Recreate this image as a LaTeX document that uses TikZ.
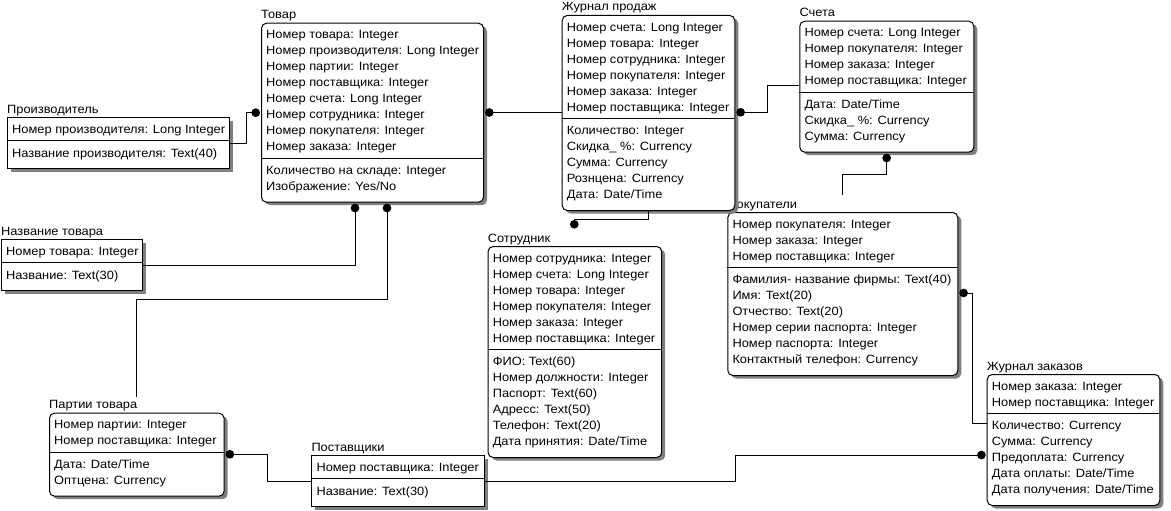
\documentclass[tikz,border=0pt]{standalone}
\usepackage{fontspec}
\setmainfont{Liberation Sans}[FakeStretch=1.07]
\usetikzlibrary{shadows,arrows.meta}
\tikzset{
  ersq/.style={draw, line width=1pt, fill=white, inner sep=0pt,
    drop shadow={shadow xshift=3.5pt, shadow yshift=-3pt, fill=black!50, opacity=1}},
  errnd/.style={ersq, rounded corners=5pt},
  erdiv/.style={line width=1pt},
  ertitle/.style={inner sep=0pt, anchor=base west, font=\fontsize{12}{16}\selectfont},
  erattr/.style={inner sep=0pt, anchor=north west, align=left, font=\fontsize{12}{16}\selectfont},
  errel/.style={line width=1pt},
  dotend/.style={errel, arrows={-Circle[length=8.6pt]}, shorten >=1pt},
  dotstart/.style={errel, arrows={Circle[length=8.6pt]-}, shorten <=1pt},
}
% #1 name #2 style #3 x #4 y(top) #5 width #6 n keys #7 n non-keys #8 title
\newcommand{\erbox}[8]{%
  \pgfmathsetmacro{\erh}{16*(#6+#7)+19}%
  \pgfmathsetmacro{\erd}{#4+16*#6+7.6}%
  \node[#2, minimum width=#5pt, minimum height=\erh pt, anchor=north west] (#1) at (#3,#4) {};
  \node[ertitle] (#1-t) at (#3,#4-4) {#8};
  \draw[erdiv] (#3,\erd) -- ++(#5,0);
  \coordinate (#1-k) at (#3+5,#4+4.8);
  \coordinate (#1-n) at (#3+5,\erd+4.8);
}
\begin{document}
\begin{tikzpicture}[x=1pt,y=-1pt]
\fill[white] (0,0) rectangle (1171,511);
\useasboundingbox (0,0) rectangle (1171,511);

% Покупатели (drawn first so that the shadow of Журнал продаж overlaps its title)
\erbox{pok}{errnd}{727.3}{212}{230}{3}{6}{Покупатели}
\node[erattr] (pok-kt) at (pok-k) {\strut Номер покупателя: Integer\\Номер заказа: Integer\\Номер поставщика: Integer};
\node[erattr] (pok-nt) at (pok-n) {\strut Фамилия- название фирмы: Text(40)\\Имя: Text(20)\\Отчество: Text(20)\\Номер серии паспорта: Integer\\Номер паспорта: Integer\\Контактный телефон: Currency};

% Товар
\erbox{tovar}{errnd}{261}{22.7}{222}{8}{2}{Товар}
\node[erattr] (tovar-kt) at (tovar-k) {\strut Номер товара: Integer\\Номер производителя: Long Integer\\Номер партии: Integer\\Номер поставщика: Integer\\Номер счета: Long Integer\\Номер сотрудника: Integer\\Номер покупателя: Integer\\Номер заказа: Integer};
\node[erattr] (tovar-nt) at (tovar-n) {\strut Количество на складе: Integer\\Изображение: Yes/No};

% Производитель
\erbox{proizv}{ersq}{7}{117.3}{222}{1}{1}{Производитель}
\node[erattr] (proizv-kt) at (proizv-k) {\strut Номер производителя: Long Integer};
\node[erattr] (proizv-nt) at (proizv-n) {\strut Название производителя: Text(40)};

% Название товара
\erbox{nazv}{ersq}{1}{239.3}{141}{1}{1}{Название товара}
\node[erattr] (nazv-kt) at (nazv-k) {\strut Номер товара: Integer};
\node[erattr] (nazv-nt) at (nazv-n) {\strut Название: Text(30)};

% Журнал продаж
\erbox{jprod}{errnd}{561.7}{15}{172.6}{6}{5}{Журнал продаж}
\node[erattr] (jprod-kt) at (jprod-k) {\strut Номер счета: Long Integer\\Номер товара: Integer\\Номер сотрудника: Integer\\Номер покупателя: Integer\\Номер заказа: Integer\\Номер поставщика: Integer};
\node[erattr] (jprod-nt) at (jprod-n) {\strut Количество: Integer\\Скидка\_ \%: Currency\\Сумма: Currency\\Рознцена: Currency\\Дата: Date/Time};

% Счета
\erbox{schet}{errnd}{799.3}{20.7}{174}{4}{3}{Счета}
\node[erattr] (schet-kt) at (schet-k) {\strut Номер счета: Long Integer\\Номер покупателя: Integer\\Номер заказа: Integer\\Номер поставщика: Integer};
\node[erattr] (schet-nt) at (schet-n) {\strut Дата: Date/Time\\Скидка\_ \%: Currency\\Сумма: Currency};

% Журнал заказов
\erbox{jzak}{errnd}{986.7}{374}{172.6}{2}{5}{Журнал заказов}
\node[erattr] (jzak-kt) at (jzak-k) {\strut Номер заказа: Integer\\Номер поставщика: Integer};
\node[erattr] (jzak-nt) at (jzak-n) {\strut Количество: Currency\\Сумма: Currency\\Предоплата: Currency\\Дата оплаты: Date/Time\\Дата получения: Date/Time};

% Сотрудник
\erbox{sotr}{errnd}{487.6}{246}{173.6}{6}{6}{Сотрудник}
\node[erattr] (sotr-kt) at (sotr-k) {\strut Номер сотрудника: Integer\\Номер счета: Long Integer\\Номер товара: Integer\\Номер покупателя: Integer\\Номер заказа: Integer\\Номер поставщика: Integer};
\node[erattr] (sotr-nt) at (sotr-n) {\strut ФИО: Text(60)\\Номер должности: Integer\\Паспорт: Text(60)\\Адресс: Text(50)\\Телефон: Text(20)\\Дата принятия: Date/Time};

% Партии товара
\erbox{parti}{errnd}{49}{412.7}{174.6}{2}{2}{Партии товара}
\node[erattr] (parti-kt) at (parti-k) {\strut Номер партии: Integer\\Номер поставщика: Integer};
\node[erattr] (parti-nt) at (parti-n) {\strut Дата: Date/Time\\Оптцена: Currency};

% Поставщики
\erbox{post}{ersq}{311.3}{455.3}{173}{1}{1}{Поставщики}
\node[erattr] (post-kt) at (post-k) {\strut Номер поставщика: Integer};
\node[erattr] (post-nt) at (post-n) {\strut Название: Text(30)};

% free ends
\coordinate (sotr-dot) at (574.3,228.6);
\coordinate (schet-free) at (842.3,195);
\coordinate (parti-free) at (136,396.7);

% connectors
\draw[dotend] (proizv.east |- 0,143.3) -- (246,143.3) |- (tovar.west |- 0,112.7);
\draw[dotstart] (tovar.east |- 0,112.5) -- (jprod.west |- 0,112.5);
\draw[dotstart] (jprod.east |- 0,112.3) -- (767.7,112.3) |- (schet.west |- 0,86);
\draw[errel, arrows={-Circle[length=8.6pt]}] (jprod.south -| 648.3,0) -- (648.3,219.3) -- (574.3,219.3) -- (sotr-dot);
\draw[dotstart] (schet.south -| 886.7,0) -- (886.7,174) -| (schet-free);
\draw[dotend] (nazv.east |- 0,265.3) -| (tovar.south -| 355,0);
\draw[dotstart] (tovar.south -| 387,0) -- (387,299.3) -| (parti-free);
\draw[dotstart] (parti.east |- 0,454.3) -- (267.2,454.3) |- (post.west |- 0,481.7);
\draw[dotend] (post.east |- 0,481.7) -- (735.7,481.7) |- (jzak.west |- 0,455);
\draw[dotstart] (pok.east |- 0,293) -- (972.3,293) |- (jzak.west |- 0,423.3);
\end{tikzpicture}
\end{document}
